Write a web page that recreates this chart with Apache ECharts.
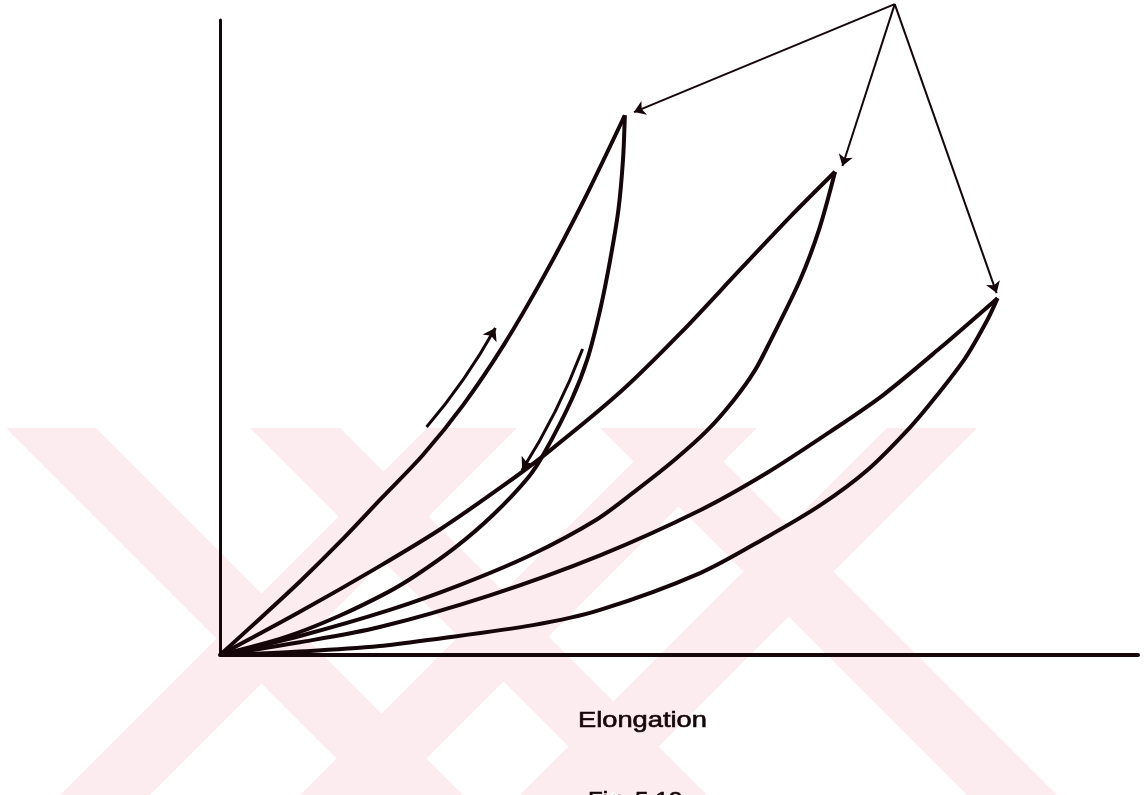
<!DOCTYPE html>
<html>
<head>
<meta charset="utf-8">
<script src="https://cdn.jsdelivr.net/npm/echarts@6/dist/echarts.min.js"></script>
<style>
  html, body { margin: 0; padding: 0; background: #fff; }
  #chart { width: 1144px; height: 795px; }
</style>
</head>
<body>
<div id="chart"></div>
<script>
// elongation (x) vs load (y), arbitrary units 0-100
const loop1Loading = [[0, 0], [4.4, 5.8], [8.8, 11.7], [13.2, 18.0], [17.6, 24.7], [22.1, 31.5],
  [26.5, 39.4], [30.9, 48.8], [35.3, 59.7], [39.7, 71.8], [44.1, 85.0]]
const loop1Unloading = [[44.1, 85.0], [43.9, 78.0], [43.4, 70.1], [42.5, 62.2], [41.4, 54.3], [40.0, 46.5],
  [38.3, 40.2], [35.4, 32.0], [33.6, 28.0], [29.7, 22.0], [25.6, 16.9], [21.4, 12.6], [18.3, 9.9],
  [12.9, 6.1], [7.1, 2.8], [0, 0]]
const loop2Loading = [[0, 0], [8.7, 6.8], [17.4, 14.0], [24.0, 19.8], [30.5, 26.3], [35.6, 31.8],
  [43.6, 41.4], [50.1, 50.6], [56.6, 60.6], [62.1, 69.0], [67.0, 76.1]]
const loop2Unloading = [[67.0, 76.1], [65.3, 67.2], [63.2, 59.1], [60.0, 49.6], [58.3, 44.9], [56.0, 40.2],
  [53.1, 35.4], [49.5, 30.7], [45.4, 26.0], [41.0, 21.3], [33.8, 15.7], [26.1, 11.0], [18.5, 7.1],
  [8.7, 3.0], [0, 0]]
const loop3Loading = [[0, 0], [8.7, 2.0], [17.4, 4.4], [29.4, 9.4], [41.4, 15.7], [52.3, 22.8],
  [59.6, 28.7], [66.4, 35.1], [72.2, 40.9], [78.4, 48.3], [84.7, 56.2]]
const loop3Unloading = [[84.7, 56.2], [83.6, 52.8], [81.2, 46.8], [78.1, 40.9], [75.2, 35.9], [70.5, 29.1],
  [65.4, 23.6], [59.6, 18.6], [52.3, 12.9], [41.4, 7.1], [34.1, 4.7], [22.9, 2.4], [17.4, 1.4],
  [9.4, 0.6], [0, 0]]

// arrows: common start point -> each peak, and the two direction arrows
const pointerStart = [73.5, 102.5]
const pointerEnds = [[45.1, 85.5], [67.8, 77.0], [84.6, 57.0]]
const upArrow = [[22.5, 35.9], [30.0, 51.5]]
const downArrow = [[39.5, 48.2], [32.9, 29.1]]

const xLabel = 'Elongation'
const figLabel = 'Fig. 5.13'

const ink = '#140609'
const curves = [loop1Loading, loop1Unloading, loop2Loading, loop2Unloading, loop3Loading, loop3Unloading]

// faint background watermark bands
const wm = '#fdecef'
function band(x0, w, dir) {
  const top = 428, bot = 795, k = 1.0 * (bot - top)
  if (dir > 0) return [[x0, top], [x0 + w, top], [x0 + w + k, bot], [x0 + k, bot]]
  return [[x0, bot], [x0 + w, bot], [x0 + w + k, top], [x0 + k, top]]
}
const bands = [band(6, 90, 1), band(250, 90, 1), band(600, 90, 1),
  band(60, 90, -1), band(300, 90, -1), band(520, 90, -1)]

const chart = echarts.init(document.getElementById('chart'))
chart.setOption({
  animation: false,
  backgroundColor: '#fff',
  grid: { left: 220, right: 6, top: 20, bottom: 140 },
  xAxis: {
    type: 'value', min: 0, max: 100,
    axisLine: { show: true, lineStyle: { color: ink, width: 4 } },
    axisTick: { show: false }, axisLabel: { show: false }, splitLine: { show: false }
  },
  yAxis: {
    type: 'value', min: 0, max: 100,
    axisLine: { show: true, lineStyle: { color: ink, width: 3 } },
    axisTick: { show: false }, axisLabel: { show: false }, splitLine: { show: false }
  },
  graphic: bands.map(pts => ({
    type: 'polygon', z: -10, silent: true,
    shape: { points: pts }, style: { fill: wm }
  })).concat([
    {
      type: 'text', x: 578, y: 710, scaleX: 1.24,
      style: { text: xLabel, font: '22px "Liberation Sans", Arial', fill: ink, verticalAlign: 'top',
        stroke: ink, lineWidth: 0.6 }
    },
    {
      type: 'text', x: 588, y: 790, scaleX: 1.1,
      style: { text: figLabel, font: '22px "Liberation Sans", Arial', fill: ink, verticalAlign: 'top',
        stroke: ink, lineWidth: 0.6 }
    }
  ]),
  series: curves.map(d => ({
    type: 'line', data: d, smooth: 0.3, symbol: 'none', clip: false,
    lineStyle: { color: ink, width: 4 }
  })).concat([
    {
      type: 'lines', coordinateSystem: 'cartesian2d', clip: false,
      symbol: ['none', 'arrow'], symbolSize: 11,
      lineStyle: { color: ink, width: 2, opacity: 1 },
      data: pointerEnds.map(e => ({ coords: [pointerStart, e] }))
    },
    {
      type: 'lines', coordinateSystem: 'cartesian2d', clip: false,
      symbol: ['none', 'arrow'], symbolSize: 12,
      lineStyle: { color: ink, width: 3, opacity: 1 },
      data: [
        { coords: upArrow, lineStyle: { curveness: -0.05 } },
        { coords: downArrow, lineStyle: { curveness: 0.05 } }
      ]
    }
  ])
})
</script>
</body>
</html>
